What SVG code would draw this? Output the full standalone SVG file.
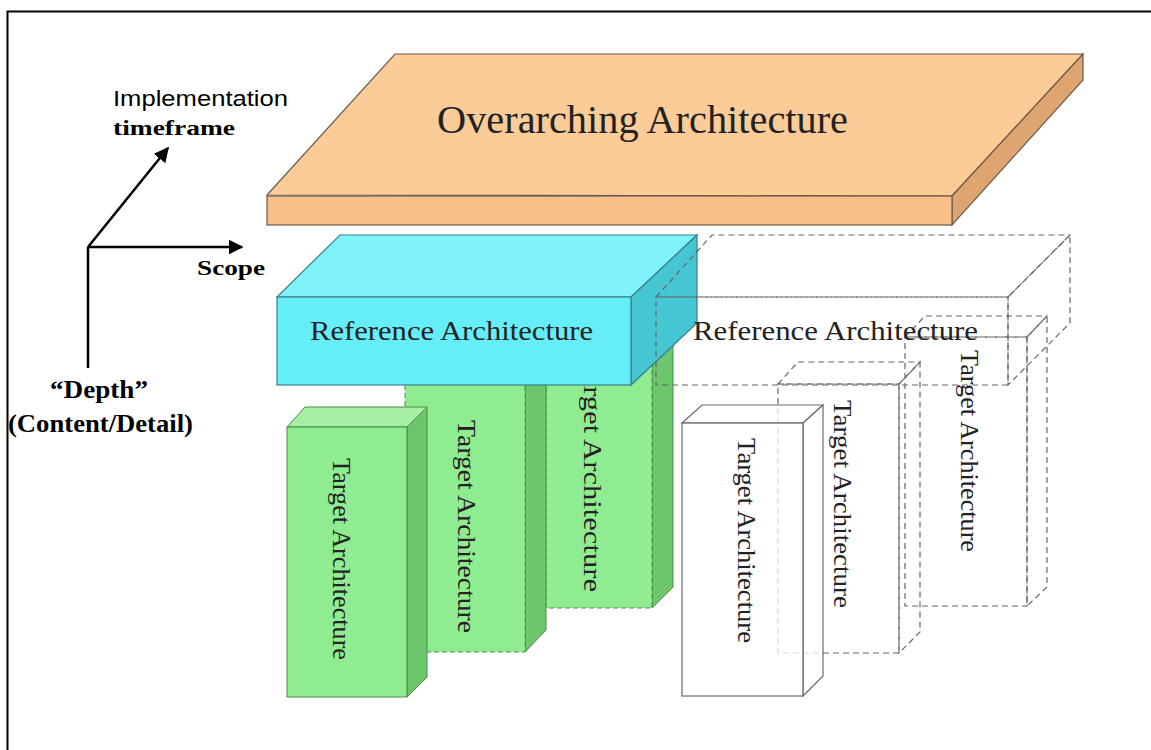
<svg xmlns="http://www.w3.org/2000/svg" width="1151" height="750" viewBox="0 0 1151 750">
  <defs>
    <marker id="arrow" viewBox="0 0 10 10" refX="9" refY="5" markerWidth="6" markerHeight="6" orient="auto" markerUnits="strokeWidth">
      <path d="M0,0 L10,5 L0,10 z" fill="#000"/>
    </marker>
    <style>
      .serif { font-family: "Liberation Serif", "Times New Roman", serif; }
      .sans { font-family: "Liberation Sans", Arial, sans-serif; }
      .lbl { fill: #222; }
      .axis { stroke: #000; stroke-width: 2.5; fill: none; }
      .slab-top { fill: #fbcb98; stroke: #6b5a48; stroke-width: 1.2; }
      .slab-front { fill: #f8bf88; stroke: #6b5a48; stroke-width: 1.2; }
      .slab-side { fill: #dfa570; stroke: #6b5a48; stroke-width: 1.2; }
      .ref-top { fill: #7ef3fa; stroke: #3a7f8c; stroke-width: 1.2; }
      .ref-front { fill: #66eef8; stroke: #3a7f8c; stroke-width: 1.2; }
      .ref-side { fill: #45c6d2; stroke: #3a7f8c; stroke-width: 1.2; }
      .g-top { fill: #a6f0a6; stroke: #4a8a4a; stroke-width: 1; }
      .g-front { fill: #90ec90; stroke: #4a8a4a; stroke-width: 1; }
      .g-side { fill: #6cc66c; stroke: #4a8a4a; stroke-width: 1; }
      .g-dash { stroke-dasharray: 5 3; }
      .w-solid { fill: #fff; fill-opacity: 0.75; stroke: #6a6a6a; stroke-width: 1.2; }
      .w-dash { fill: none; stroke: #666; stroke-width: 1.2; stroke-dasharray: 6 4; }
    </style>
  </defs>

  <rect width="1151" height="750" fill="#fff"/>
  <!-- frame (top and left edges) -->
  <path d="M7.5,750 V11.5 H1151" fill="none" stroke="#000" stroke-width="2"/>

  <!-- axes -->
  <g id="axes">
    <line class="axis" x1="88" y1="247" x2="242" y2="247" marker-end="url(#arrow)"/>
    <line class="axis" x1="88" y1="247" x2="168" y2="148" marker-end="url(#arrow)"/>
    <line class="axis" x1="88" y1="247" x2="88" y2="368"/>
    <text class="sans" x="113" y="106" font-size="22" textLength="175" lengthAdjust="spacingAndGlyphs" fill="#000">Implementation</text>
    <text class="serif" x="113" y="135" font-size="22" font-weight="bold" textLength="122" lengthAdjust="spacingAndGlyphs" fill="#000">timeframe</text>
    <text class="serif" x="197" y="275" font-size="22" font-weight="bold" textLength="68" lengthAdjust="spacingAndGlyphs" fill="#000">Scope</text>
    <text class="serif" x="50" y="398" font-size="25" font-weight="bold" textLength="98" lengthAdjust="spacingAndGlyphs" fill="#000">“Depth”</text>
    <text class="serif" x="8" y="432" font-size="25" font-weight="bold" textLength="185" lengthAdjust="spacingAndGlyphs" fill="#000">(Content/Detail)</text>
  </g>

  <!-- overarching slab -->
  <g id="overarching">
    <polygon class="slab-top" points="267,195 395,54 1083,54 952,196"/>
    <polygon class="slab-side" points="952,196 1083,54 1083,80 952,225"/>
    <rect class="slab-front" x="267" y="196" width="685" height="29"/>
    <text class="serif lbl" x="437" y="133" font-size="39" textLength="411" lengthAdjust="spacingAndGlyphs">Overarching Architecture</text>
  </g>

  <!-- dashed future target boxes (back to front) -->
  <g id="target-w3">
    <polygon class="w-dash" points="905,337 925,316 1047,316 1027,337"/>
    <polygon class="w-dash" points="1027,337 1047,316 1047,587 1027,606"/>
    <rect class="w-dash" x="905" y="337" width="122" height="269"/>
    <text class="serif lbl" transform="translate(961,350) rotate(90)" font-size="26" textLength="202" lengthAdjust="spacingAndGlyphs">Target Architecture</text>
  </g>
  <g id="target-w2">
    <polygon class="w-dash" points="778,384 798,362 920,362 899,384"/>
    <polygon class="w-dash" points="899,384 920,362 920,632 899,653"/>
    <rect class="w-dash" x="778" y="384" width="121" height="269"/>
    <text class="serif lbl" transform="translate(834,400) rotate(90)" font-size="26" textLength="208" lengthAdjust="spacingAndGlyphs">Target Architecture</text>
  </g>
  <g id="target-w1">
    <polygon class="w-solid" points="682,423 702,405 823,405 803,423"/>
    <polygon class="w-solid" points="803,423 823,405 823,676 803,696"/>
    <rect class="w-solid" x="682" y="423" width="121" height="273"/>
    <text class="serif lbl" transform="translate(738,438) rotate(90)" font-size="26" textLength="205" lengthAdjust="spacingAndGlyphs">Target Architecture</text>
  </g>

  <!-- green target boxes -->
  <g id="target-g3">
    <polygon class="g-side" points="652,300 673,280 673,587 652,608"/>
    <rect class="g-front g-dash" x="546" y="300" width="106" height="308"/>
    <text class="serif lbl" transform="translate(584,356) rotate(90)" font-size="26" textLength="236" lengthAdjust="spacingAndGlyphs">Target Architecture</text>
  </g>
  <g id="target-g2">
    <polygon class="g-side" points="525,330 546,310 546,630 525,652"/>
    <rect class="g-front g-dash" x="405" y="330" width="120" height="322"/>
    <text class="serif lbl" transform="translate(458,420) rotate(90)" font-size="26" textLength="213" lengthAdjust="spacingAndGlyphs">Target Architecture</text>
  </g>
  <g id="target-g1">
    <polygon class="g-top" points="287,427 305,407 427,407 407,427"/>
    <polygon class="g-side" points="407,427 427,407 427,677 407,697"/>
    <rect class="g-front" x="287" y="427" width="120" height="270"/>
    <text class="serif lbl" transform="translate(333,458) rotate(90)" font-size="26" textLength="202" lengthAdjust="spacingAndGlyphs">Target Architecture</text>
  </g>

  <!-- reference architecture (current) -->
  <g id="reference">
    <polygon class="ref-top" points="277,297 340,235 697,235 631,297"/>
    <polygon class="ref-side" points="631,297 697,235 697,323 631,385"/>
    <rect class="ref-front" x="277" y="297" width="354" height="88"/>
    <text class="serif lbl" x="310" y="340" font-size="28" textLength="283" lengthAdjust="spacingAndGlyphs">Reference Architecture</text>
  </g>

  <!-- reference architecture (future, dashed) -->
  <g id="reference-future">
    <polygon class="w-dash" points="656,297 712,235 1070,235 1008,297"/>
    <polygon class="w-dash" points="1008,297 1070,235 1070,323 1008,385"/>
    <rect class="w-dash" x="656" y="297" width="352" height="88"/>
    <text class="serif lbl" x="693" y="340" font-size="28" textLength="285" lengthAdjust="spacingAndGlyphs">Reference Architecture</text>
  </g>
</svg>
